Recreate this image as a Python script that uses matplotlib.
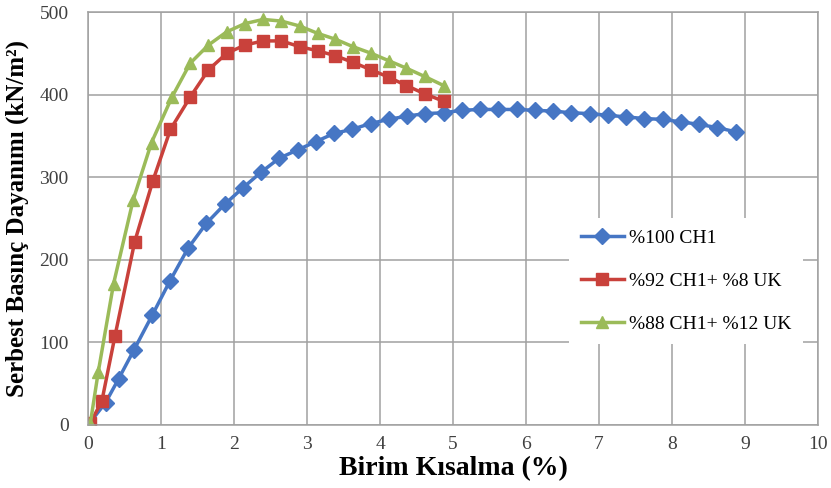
import numpy as np
import matplotlib
matplotlib.use('Agg')
import matplotlib.pyplot as plt

# Birim kısalma (%) ve serbest basınç dayanımı (kN/m2) okumaları
x_ch1 = [0, 0.24, 0.42, 0.63, 0.88, 1.12, 1.37, 1.62, 1.87, 2.12, 2.37, 2.62,
         2.87, 3.12, 3.37, 3.62, 3.87, 4.12, 4.37, 4.62, 4.87, 5.12, 5.37,
         5.62, 5.87, 6.12, 6.37, 6.62, 6.87, 7.12, 7.37, 7.62, 7.87, 8.12,
         8.37, 8.62, 8.87]
y_ch1 = [0, 27, 56, 91, 133, 174, 214, 244, 267, 287, 306, 323, 333, 343, 353,
         358, 365, 370, 374, 377, 378, 381, 382, 382, 382, 381, 380, 378, 377,
         375, 373, 371, 370, 367, 364, 360, 355]

x_uk8 = [0.03, 0.19, 0.37, 0.64, 0.89, 1.13, 1.40, 1.65, 1.90, 2.15, 2.40,
         2.65, 2.90, 3.15, 3.39, 3.63, 3.88, 4.12, 4.36, 4.61, 4.87]
y_uk8 = [2, 29, 108, 222, 296, 358, 397, 430, 450, 460, 465, 465, 458, 453,
         447, 439, 430, 421, 411, 401, 392]

x_uk12 = [0.03, 0.14, 0.35, 0.62, 0.87, 1.15, 1.40, 1.65, 1.90, 2.15, 2.40,
          2.65, 2.90, 3.15, 3.39, 3.63, 3.88, 4.12, 4.36, 4.61, 4.87]
y_uk12 = [1, 64, 171, 273, 342, 397, 438, 460, 476, 486, 491, 489, 483, 474,
          467, 458, 450, 441, 432, 422, 411]

labels = ['%100 CH1', '%92 CH1+ %8 UK', '%88 CH1+ %12 UK']
x_ticks = list(range(0, 11))
y_ticks = [0, 100, 200, 300, 400, 500]

plt.rcParams['font.family'] = ['Liberation Serif', 'DejaVu Serif']

fig = plt.figure(figsize=(8.31, 4.88), dpi=100)
ax = fig.add_axes([0.1059, 0.1291, 0.8785, 0.8463])

ax.plot(x_ch1, y_ch1, '-D', color='#4676C4', lw=2.5, ms=8, label=labels[0])
ax.plot(x_uk8, y_uk8, '-s', color='#C9413B', lw=2.5, ms=9, label=labels[1])
ax.plot(x_uk12, y_uk12, '-^', color='#9BBB59', lw=2.5, ms=9, label=labels[2])

ax.set_xlim(0, 10)
ax.set_ylim(0, 500)
ax.set_xticks(x_ticks)
ax.set_yticks(y_ticks)
ax.grid(True, color='#A0A0A0', lw=1.1)
ax.set_axisbelow(True)
for s in ax.spines.values():
    s.set_color('#A0A0A0')
    s.set_linewidth(1.1)
ax.tick_params(axis='both', length=0, labelsize=14, colors='#404040')
ax.tick_params(axis='x', pad=8)
ax.tick_params(axis='y', pad=14)

ax.set_xlabel('Birim Kısalma (%)', fontsize=20, fontweight='bold', labelpad=2)
ax.set_ylabel('Serbest Basınç Dayanımı (kN/m²)', fontsize=18,
              fontweight='bold', labelpad=7)

leg = ax.legend(loc='center left', bbox_to_anchor=(0.646, 0.349), fontsize=14,
                frameon=True, facecolor='white', edgecolor='none',
                framealpha=1, fancybox=False, handlelength=2.2,
                handletextpad=0.25, labelspacing=1.3, borderpad=0.6)

fig.savefig('out.png', dpi=100)
